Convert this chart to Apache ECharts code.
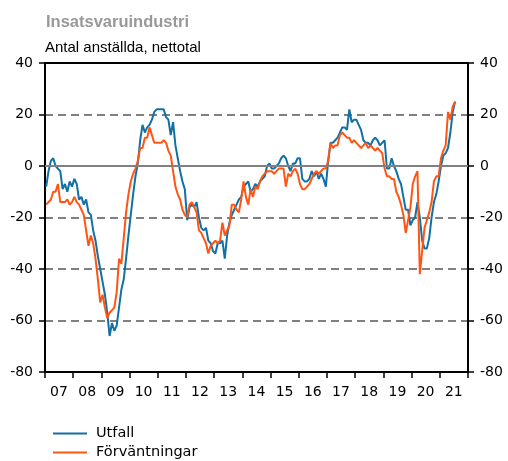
<!DOCTYPE html>
<html>
<head>
<meta charset="utf-8">
<script src="https://cdn.jsdelivr.net/npm/echarts@6/dist/echarts.min.js"></script>
<style>
  html, body { margin: 0; padding: 0; background: #fff; }
  #main { width: 508px; height: 461px; }
</style>
</head>
<body>
<div id="main"></div>
<script>
// monthly values, jan 2007 - jul 2021
var utfall = [
  -8, -2, 2, 3, 0, -1, -2, -9, -7, -10, -6, -8,          // 2007
  -5, -7, -13, -12, -15, -13, -18, -19, -25, -29, -35, -40, // 2008
  -45, -50, -57, -66, -61, -64, -62, -55, -48, -44, -36, -27, // 2009
  -19, -11, -4, 1, 10, 16, 13, 15, 16, 18, 21, 22,         // 2010
  22, 22, 22, 19, 18, 12, 17, 8, 3, -2, -6, -9,            // 2011
  -21, -16, -15, -16, -14, -20, -24, -25, -24, -29, -30, -33, // 2012
  -34, -30, -30, -29, -36, -27, -22, -19, -17, -15, -13, -12, // 2013
  -8, -7, -6, -10, -9, -7, -8, -6, -5, -4, 0, 1,            // 2014
  -1, -1, 0, 1, 3, 4, 3, 0, -2, 1, 1, 3,                    // 2015
  3, -5, -6, -6, -5, -2, -4, -2, -5, -3, -5, -8,            // 2016
  2, 9, 9, 10, 11, 13, 15, 15, 14, 22, 17, 18,              // 2017
  18, 16, 14, 10, 9, 9, 8, 10, 11, 10, 8, 9,                // 2018
  10, -1, -1, 3, 0, -2, -5, -7, -12, -17, -17, -23,         // 2019
  -21, -20, -14, -20, -29, -32, -32, -28, -20, -14, -11, -6, // 2020
  0, 4, 5, 7, 13, 21, 25                                    // 2021
];
var forvantningar = [
  -15, -14, -13, -10, -10, -7, -14, -14, -14, -13, -15, -14, // 2007
  -12, -14, -15, -17, -19, -25, -31, -27, -30, -36, -44, -53, // 2008
  -50, -55, -59, -57, -56, -55, -49, -36, -38, -28, -18, -11, // 2009
  -6, -3, -1, 2, 7, 7, 11, 11, 15, 12, 9, 9,                 // 2010
  9, 9, 10, 9, 6, 4, -2, -8, -11, -13, -17, -19,             // 2011
  -20, -15, -14, -16, -18, -25, -26, -28, -30, -34, -31, -30, // 2012
  -29, -30, -29, -22, -27, -25, -23, -15, -15, -17, -18, -13, // 2013
  -6, -12, -15, -9, -12, -8, -9, -6, -4, -3, -2, -2,         // 2014
  -2, -3, -2, -1, -1, -1, -8, -3, -4, -2, -1, -3,            // 2015
  -7, -9, -9, -8, -7, -5, -3, -2, -3, -2, -1, -1,            // 2016
  2, 9, 7, 8, 8, 12, 13, 12, 11, 11, 9, 10,                  // 2017
  9, 8, 7, 8, 9, 7, 8, 7, 6, 7, 6, 5,                        // 2018
  -1, -4, -4, -5, -5, -10, -12, -15, -19, -26, -21, -16,     // 2019
  -7, -4, -2, -42, -33, -24, -21, -18, -14, -6, -4, -4,      // 2020
  3, 6, 8, 21, 18, 23, 25                                    // 2021
];
var yearLabels = ['07','08','09','10','11','12','13','14','15','16','17','18','19','20','21'];

// x is months since jan 2007, each value sits mid-month
function toPoints(arr) {
  return arr.map(function(v, i){ return [i + 0.5, v]; });
}

var chart = echarts.init(document.getElementById('main'));
var font = 'DejaVu Sans';
var nMonths = yearLabels.length * 12;

var option = {
  animation: false,
  title: [
    { text: 'Insatsvaruindustri', left: 41, top: 9,
      textStyle: { fontFamily: 'Liberation Sans', fontWeight: 'bold', fontSize: 16.5, color: '#999' } },
    { text: 'Antal anställda, nettotal', left: 40, top: 35,
      textStyle: { fontFamily: 'Liberation Sans', fontWeight: 'normal', fontSize: 15, color: '#000' } }
  ],
  legend: {
    data: [{ name: 'Utfall', icon: 'rect' }, { name: 'Förväntningar', icon: 'rect' }],
    orient: 'vertical', left: 53, top: 425, padding: 0,
    itemWidth: 34, itemHeight: 2, itemGap: 2,
    textStyle: { fontFamily: font, fontSize: 14.5, color: '#000', padding: [0, 0, 0, 4], lineHeight: 17 }
  },
  grid: { left: 45, right: 40, top: 63, bottom: 89 },
  xAxis: [
    {
      type: 'value', min: 0, max: nMonths, interval: 12,
      axisLine: { show: true, onZero: false, lineStyle: { color: '#000', width: 2 } },
      axisTick: { show: true, length: 6, lineStyle: { color: '#000', width: 1.5 } },
      axisLabel: {
        formatter: function(v){ return v < nMonths ? yearLabels[v / 12] : ''; },
        fontFamily: font, fontSize: 14, color: '#000', margin: 13, padding: [0, 0, 0, 28]
      },
      splitLine: { show: false }
    },
    {
      type: 'value', min: 0, max: nMonths, interval: 12, position: 'top',
      axisLine: { show: true, onZero: false, lineStyle: { color: '#000', width: 2 } },
      axisTick: { show: false }, axisLabel: { show: false }, splitLine: { show: false }
    }
  ],
  yAxis: [
    {
      type: 'value', min: -80, max: 40, interval: 20, position: 'left',
      axisLine: { show: true, onZero: false, lineStyle: { color: '#000', width: 2 } },
      axisTick: { show: true, length: 6, lineStyle: { color: '#000', width: 1.5 } },
      axisLabel: { fontFamily: font, fontSize: 14, color: '#000', margin: 12 },
      splitLine: { show: true, showMinLine: false, showMaxLine: false,
        lineStyle: { color: '#808080', width: 2, type: [8, 5] } }
    },
    {
      type: 'value', min: -80, max: 40, interval: 20, position: 'right',
      axisLine: { show: true, onZero: false, lineStyle: { color: '#000', width: 2 } },
      axisTick: { show: true, length: 6, lineStyle: { color: '#000', width: 1.5 } },
      axisLabel: { fontFamily: font, fontSize: 14, color: '#000', margin: 12 },
      splitLine: { show: false }
    }
  ],
  series: [
    {
      name: 'zero', type: 'line', data: [], z: 1, silent: true,
      markLine: { silent: true, symbol: 'none', label: { show: false },
        lineStyle: { color: '#808080', width: 2, type: 'solid' },
        data: [{ yAxis: 0 }] }
    },
    {
      name: 'Utfall', type: 'line', data: toPoints(utfall), symbol: 'none', z: 3,
      lineStyle: { color: '#1170a4', width: 2 }, itemStyle: { color: '#1170a4' }
    },
    {
      name: 'Förväntningar', type: 'line', data: toPoints(forvantningar), symbol: 'none', z: 4,
      lineStyle: { color: '#ff5514', width: 2 }, itemStyle: { color: '#ff5514' }
    }
  ]
};

chart.setOption(option);
</script>
</body>
</html>
